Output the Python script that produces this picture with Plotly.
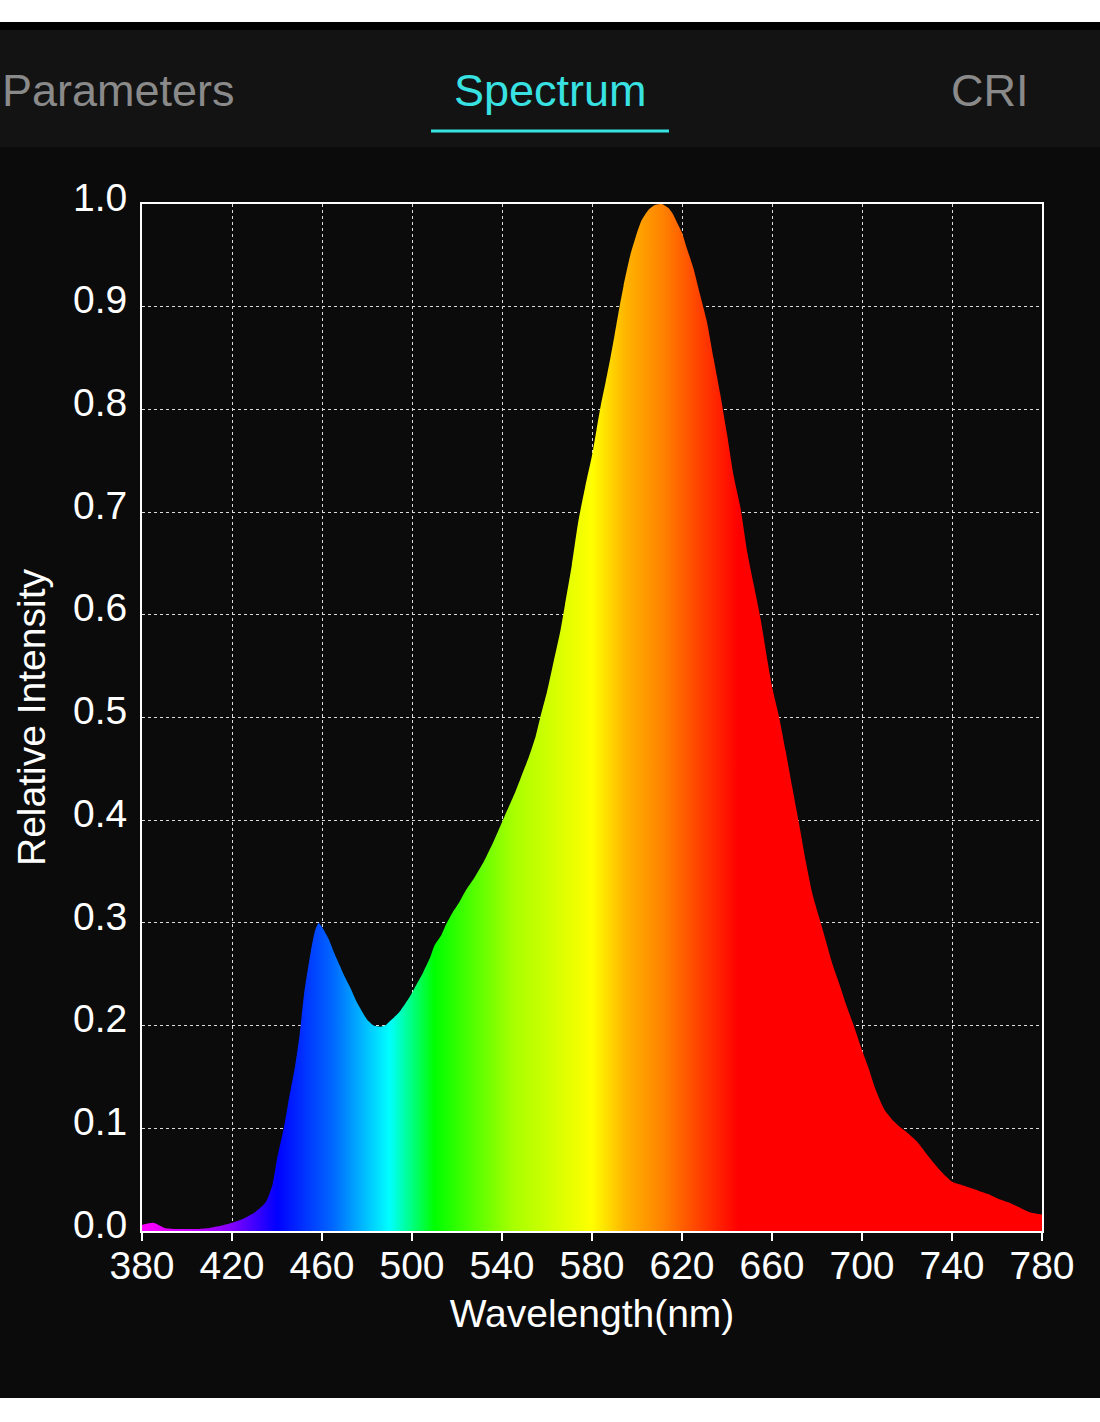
import plotly.graph_objects as go

# ---------------- data ----------------
wavelength = [380, 385, 390, 395, 400, 405, 410, 415, 420, 425, 430, 435, 438, 440,
              443, 445, 448, 450, 452, 455, 457, 458.5, 460, 463, 465, 468, 470, 473, 475,
              478, 480, 483, 486, 488, 490, 493, 495, 499, 502, 505, 508, 510, 513,
              515, 518, 521, 524, 528, 532, 536, 540, 543, 546, 549, 552, 555, 557,
              560, 563, 566, 568, 571, 574, 577, 580, 582, 584, 586, 588, 590, 592,
              594, 597, 600, 602, 605, 608, 611, 614, 616, 618, 620, 622, 625, 628,
              631, 634, 637, 640, 643, 646, 649, 652, 655, 658, 660, 663, 666, 669,
              672, 675, 678, 681, 684, 687, 690, 693, 696, 700, 703, 706, 710, 714,
              717, 720, 724, 728, 732, 736, 740, 744, 748, 752, 756, 760, 765, 770,
              775, 780]
intensity = [0.006, 0.008, 0.003, 0.002, 0.002, 0.002, 0.003, 0.005, 0.008, 0.012,
             0.018, 0.028, 0.045, 0.070, 0.100, 0.125, 0.160, 0.190, 0.230, 0.272,
             0.293, 0.300, 0.296, 0.284, 0.273, 0.258, 0.248, 0.235, 0.225, 0.213, 0.206,
             0.200, 0.199, 0.200, 0.204, 0.210, 0.215, 0.228, 0.240, 0.252, 0.266,
             0.278, 0.288, 0.298, 0.310, 0.320, 0.332, 0.345, 0.360, 0.378, 0.398,
             0.413, 0.428, 0.445, 0.462, 0.482, 0.500, 0.525, 0.555, 0.585, 0.610,
             0.648, 0.692, 0.725, 0.755, 0.780, 0.805, 0.826, 0.848, 0.872, 0.897,
             0.920, 0.950, 0.972, 0.984, 0.994, 0.999, 1.000, 0.996, 0.990, 0.981,
             0.972, 0.958, 0.938, 0.912, 0.886, 0.850, 0.815, 0.776, 0.735, 0.704,
             0.661, 0.628, 0.595, 0.555, 0.530, 0.502, 0.468, 0.432, 0.397, 0.360,
             0.328, 0.305, 0.282, 0.259, 0.240, 0.220, 0.202, 0.176, 0.158, 0.138,
             0.118, 0.107, 0.101, 0.096, 0.088, 0.077, 0.066, 0.056, 0.048, 0.045,
             0.042, 0.039, 0.036, 0.032, 0.028, 0.023, 0.018, 0.016]

x_ticks = [380, 420, 460, 500, 540, 580, 620, 660, 700, 740, 780]
y_ticks = [0.0, 0.1, 0.2, 0.3, 0.4, 0.5, 0.6, 0.7, 0.8, 0.9, 1.0]
y_tick_labels = ["0.0", "0.1", "0.2", "0.3", "0.4", "0.5", "0.6", "0.7", "0.8", "0.9", "1.0"]

spectrum_nm = [380, 405, 420, 440, 465, 490, 510, 545, 580, 595, 612, 628, 645, 780]
spectrum_colors = ["#ff00ff", "#c000ff", "#8000ff", "#0000ff", "#0068ff", "#00ffff",
                   "#00ff00", "#a8ff00", "#ffff00", "#ffb400", "#ff8000", "#ff4000",
                   "#ff0000", "#ff0000"]

tab_labels = ["Parameters", "Spectrum", "CRI"]
tab_colors = ["#8a8a8a", "#38e2e2", "#8a8a8a"]

# ---------------- geometry ----------------
W, H = 1100, 1422
L, R, T, B = 142, 1042, 204, 1231
X0, X1 = 380, 780


def px(x):
    return (x - L) / (R - L)


def py(y):
    return (B - y) / (B - T)


colorscale = [[(nm - X0) / (X1 - X0), c] for nm, c in zip(spectrum_nm, spectrum_colors)]

fig = go.Figure()
fig.add_trace(go.Scatter(
    x=wavelength, y=intensity, mode="lines", fill="tozeroy",
    line=dict(width=0, color="#ff0000", shape="spline", smoothing=0.6),
    fillgradient=dict(type="horizontal", colorscale=colorscale, start=X0, stop=X1),
    hoverinfo="skip", showlegend=False,
))

font_family = "Liberation Sans, Arial, sans-serif"

shapes = [
    dict(type="rect", xref="paper", yref="paper", x0=px(-10), x1=px(W + 10), y0=py(-10), y1=py(22),
         fillcolor="#ffffff", line=dict(width=0), layer="above"),
    dict(type="rect", xref="paper", yref="paper", x0=px(-10), x1=px(W + 10), y0=py(22), y1=py(30),
         fillcolor="#000000", line=dict(width=0), layer="above"),
    dict(type="rect", xref="paper", yref="paper", x0=px(-10), x1=px(W + 10), y0=py(30), y1=py(147),
         fillcolor="#131313", line=dict(width=0), layer="above"),
    dict(type="rect", xref="paper", yref="paper", x0=px(-10), x1=px(W + 10), y0=py(1398), y1=py(H + 10),
         fillcolor="#ffffff", line=dict(width=0), layer="above"),
    dict(type="line", xref="paper", yref="paper", x0=px(431), x1=px(669), y0=py(131), y1=py(131),
         line=dict(color="#38e2e2", width=3), layer="above"),
]

tab_x = [118, 550, 990]
annotations = []
for label, color, cx in zip(tab_labels, tab_colors, tab_x):
    annotations.append(dict(
        text=label, x=px(cx), y=py(90), xref="paper", yref="paper",
        xanchor="center", yanchor="middle", showarrow=False,
        font=dict(family=font_family, size=45, color=color),
    ))

fig.update_layout(
    width=W, height=H,
    margin=dict(l=L, r=W - R, t=T, b=H - B, pad=0),
    paper_bgcolor="#0b0b0b", plot_bgcolor="#0b0b0b",
    template="none",
    shapes=shapes, annotations=annotations,
    font=dict(family=font_family, color="#ffffff", size=39),
    xaxis=dict(
        range=[X0, X1], tickmode="array", tickvals=x_ticks, ticktext=[str(v) for v in x_ticks],
        showgrid=True, gridcolor="#dcdcdc", gridwidth=1, griddash="dot",
        showline=True, linecolor="#ffffff", linewidth=2, mirror=True,
        ticks="outside", ticklen=8, tickwidth=2, tickcolor="#ffffff",
        ticklabelstandoff=-9,
        tickfont=dict(size=39, color="#ffffff"),
        title=dict(text="Wavelength(nm)", font=dict(size=39, color="#ffffff"), standoff=14),
        zeroline=False, automargin=False,
    ),
    yaxis=dict(
        range=[0, 1.0], tickmode="array", tickvals=y_ticks, ticktext=y_tick_labels,
        showgrid=True, gridcolor="#dcdcdc", gridwidth=1, griddash="dot",
        showline=True, linecolor="#ffffff", linewidth=2, mirror=True,
        ticks="", ticklabelstandoff=5, ticklabelshift=-7,
        tickfont=dict(size=39, color="#ffffff"),
        title=dict(text="Relative Intensity", font=dict(size=39, color="#ffffff"), standoff=15),
        zeroline=False, automargin=False,
    ),
)

fig.write_html(
    "out.html",
    config={"displayModeBar": False},
    post_script="document.body.style.margin='0';document.body.style.overflow='hidden';",
)
